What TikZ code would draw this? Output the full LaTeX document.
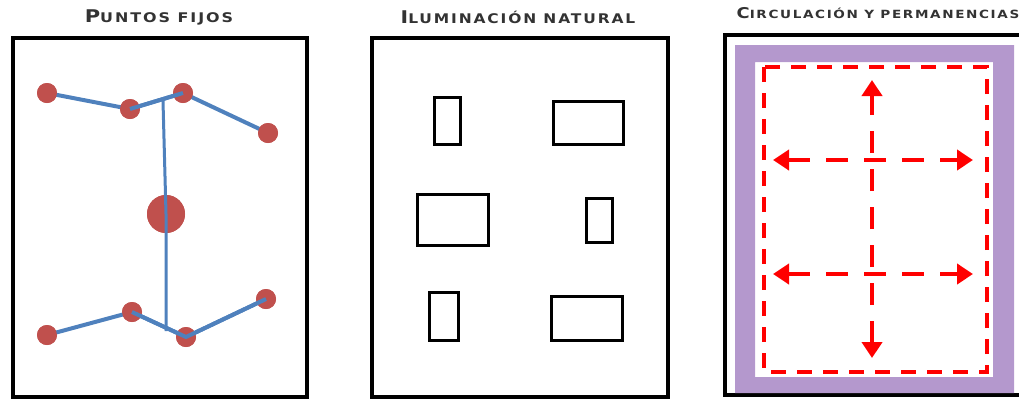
\documentclass[tikz,border=0pt]{standalone}
\usepackage{fontspec}
\newfontfamily\titlefont[LetterSpace=12]{DejaVu Sans}
\usetikzlibrary{arrows.meta}
\definecolor{dotred}{HTML}{C0504D}
\definecolor{lineblue}{HTML}{4F81BD}
\definecolor{bandpurple}{HTML}{B498CD}
\definecolor{arrowred}{HTML}{FF0000}
\tikzset{
  frame/.style={draw=black,line width=4pt},
  win/.style={draw=black,line width=3pt},
  dot/.style={circle,fill=dotred,inner sep=0pt,minimum size=20pt},
  bigdot/.style={circle,fill=dotred,inner sep=0pt,minimum size=38pt},
  link/.style={draw=lineblue,line width=4pt},
  title/.style={font=\titlefont\bfseries,text=black!80,inner sep=0pt,xscale=1.2},
  route/.style={draw=arrowred,line width=4.5pt,dash pattern=on 15pt off 11pt},
  flow/.style={draw=arrowred,line width=4.5pt,dash pattern=on 22pt off 16pt,
    {Triangle[width=20pt,length=16pt]}-{Triangle[width=20pt,length=16pt]}},
}
\newcommand{\sctitle}[2]{{\fontsize{17.5}{17}\selectfont #1}{\fontsize{13.3}{13}\selectfont #2}}
\begin{document}
\begin{tikzpicture}[x=1pt,y=-1pt]
\useasboundingbox (0,0) rectangle (1019,400);
% ---------- titles
\node[title] (t1) at (159,17) {\sctitle{P}{UNTOS FIJOS}};
\node[title,xscale=0.97] (t2) at (518,17) {\sctitle{I}{LUMINACIÓN NATURAL}};
\node[title,scale=0.85] (t3) at (878,13) {\sctitle{C}{IRCULACIÓN Y PERMANENCIAS}};
% ---------- panel 1: puntos fijos
\draw[frame] (13,38) rectangle (307,397);
\coordinate (vtop) at (163,101);
\coordinate (vbot) at (166,331);
\node[dot] (a1) at (47,93) {};
\node[dot] (a2) at (130,109) {};
\node[dot] (a3) at (183,93) {};
\node[dot] (a4) at (268,133) {};
\node[bigdot] (c) at (166,214) {};
\node[dot] (b1) at (47,335) {};
\node[dot] (b2) at (132,312) {};
\node[dot] (b3) at (186,337) {};
\node[dot] (b4) at (266,299) {};
\path[link] (a1.center) -- (a2.center) -- (a3.center) -- (a4.center);
\path[link] (b1.center) -- (b2.center) -- (b3.center) -- (b4.center);
\foreach \n in {a1,a2,a3,a4,b1,b2,b3,b4}{\fill[dotred] (\n) circle (10pt);}
\fill[dotred] (c) circle (19pt);
\draw[draw=lineblue,line width=3pt] (vtop) -- (c.center) -- (vbot);
\path[link] (b2.center) -- (b3.center) -- (b4.center);
\path[link] (a2.center) -- (a3.center);
% ---------- panel 2: iluminacion natural
\draw[frame] (372,38) rectangle (668,397);
\draw[win] (434,97) rectangle (460,144);
\draw[win] (553,101) rectangle (623,144);
\draw[win] (417,194) rectangle (488,245);
\draw[win] (586,198) rectangle (612,242);
\draw[win] (429,292) rectangle (458,340);
\draw[win] (551,296) rectangle (622,340);
% ---------- panel 3: circulacion y permanencias
\draw[frame] (725,35) rectangle (1021,395);
\fill[bandpurple,even odd rule] (735,45) rectangle (1014,393) (755,62) rectangle (993,377);
\draw[route] (764,67) rectangle (987,372);
\coordinate (up) at (872,80);
\coordinate (down) at (872,358);
\coordinate (l1) at (773,160);
\coordinate (r1) at (973,160);
\coordinate (l2) at (773,274);
\coordinate (r2) at (973,274);
\draw[flow] (down) -- (up);
\draw[flow] (l1) -- (r1);
\draw[flow] (l2) -- (r2);
\end{tikzpicture}
\end{document}
